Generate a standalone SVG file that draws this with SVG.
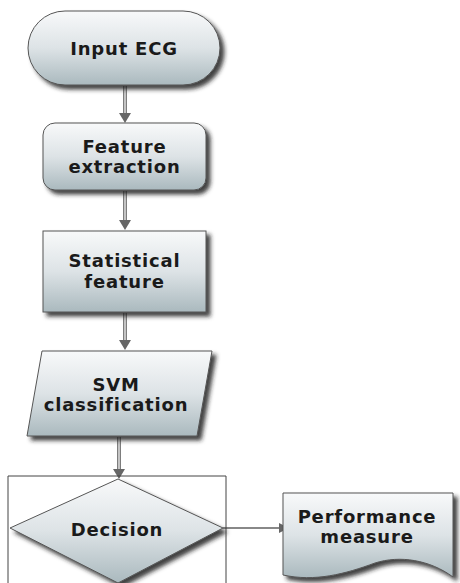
<svg xmlns="http://www.w3.org/2000/svg" width="460" height="583" viewBox="0 0 460 583">
  <defs>
    <linearGradient id="fill" x1="0" y1="0" x2="0" y2="1">
      <stop offset="0" stop-color="#f8f9fa"/>
      <stop offset="0.5" stop-color="#dde3e6"/>
      <stop offset="1" stop-color="#aab9be"/>
    </linearGradient>
    <filter id="shadow" x="-10%" y="-10%" width="130%" height="140%">
      <feDropShadow dx="4" dy="4" stdDeviation="2" flood-color="#222" flood-opacity="0.85"/>
    </filter>
    <marker id="head" viewBox="0 0 10 10" refX="9" refY="5" markerWidth="10" markerHeight="10" markerUnits="userSpaceOnUse" orient="auto">
      <path d="M0,0 L10,5 L0,10 Z" fill="#666"/>
    </marker>
  </defs>
  <style>
    .shape { fill: url(#fill); stroke: #555; stroke-width: 1; filter: url(#shadow); }
    .label { font-family: "DejaVu Sans", Verdana, sans-serif; font-weight: bold; font-size: 18px; letter-spacing: 0.8px; fill: #1a1a1a; text-anchor: middle; }
    .pipe { stroke: #7d7d7d; stroke-width: 4; fill: none; }
    .pipe-core { stroke: #dcdcdc; stroke-width: 1.5; fill: none; }
    .frame { fill: none; stroke: #444; stroke-width: 1; }
  </style>

  <rect width="460" height="583" fill="#ffffff"/>

  <!-- connectors -->
  <g id="connectors">
    <line class="pipe" x1="125" y1="86" x2="125" y2="114"/>
    <line class="pipe-core" x1="125" y1="86" x2="125" y2="114"/>
    <path d="M119,113 L131,113 L125,123 Z" fill="#666"/>

    <line class="pipe" x1="125" y1="191" x2="125" y2="221"/>
    <line class="pipe-core" x1="125" y1="191" x2="125" y2="221"/>
    <path d="M119,220 L131,220 L125,230 Z" fill="#666"/>

    <line class="pipe" x1="125" y1="313" x2="125" y2="341"/>
    <line class="pipe-core" x1="125" y1="313" x2="125" y2="341"/>
    <path d="M119,340 L131,340 L125,350 Z" fill="#666"/>

    <line class="pipe" x1="119" y1="437" x2="119" y2="470"/>
    <line class="pipe-core" x1="119" y1="437" x2="119" y2="470"/>
    <path d="M113,469 L125,469 L119,479 Z" fill="#666"/>

    <line x1="223" y1="528" x2="288" y2="528" stroke="#888" stroke-width="2" marker-end="url(#head)"/>
  </g>

  <!-- start terminal -->
  <g id="input-ecg">
    <rect class="shape" x="28" y="11" width="192" height="74" rx="37" ry="37"/>
    <text class="label" x="124" y="55">Input ECG</text>
  </g>

  <!-- process -->
  <g id="feature-extraction">
    <rect class="shape" x="43" y="123" width="163" height="67" rx="12" ry="12"/>
    <text class="label" x="124.5" y="153">Feature</text>
    <text class="label" x="124.5" y="173">extraction</text>
  </g>

  <!-- process -->
  <g id="statistical-feature">
    <rect class="shape" x="43" y="231" width="163" height="81"/>
    <text class="label" x="124.5" y="267">Statistical</text>
    <text class="label" x="124.5" y="288">feature</text>
  </g>

  <!-- data / io -->
  <g id="svm-classification">
    <path class="shape" d="M42,351 L212,351 L197,436 L27,436 Z"/>
    <text class="label" x="116" y="391">SVM</text>
    <text class="label" x="116" y="411">classification</text>
  </g>

  <!-- decision with surrounding frame -->
  <g id="decision">
    <path class="frame" d="M8,583 V476 H226 V583"/>
    <path class="shape" d="M118,479 L223,528 L118,583 L10,528 Z"/>
    <text class="label" x="117" y="536">Decision</text>
  </g>

  <!-- document -->
  <g id="performance-measure">
    <path class="shape" d="M283,493 H453 V577 C430,560 400,555 375,563 C345,574 315,582 283,575 Z"/>
    <text class="label" x="367" y="523">Performance</text>
    <text class="label" x="367" y="543">measure</text>
  </g>
</svg>
